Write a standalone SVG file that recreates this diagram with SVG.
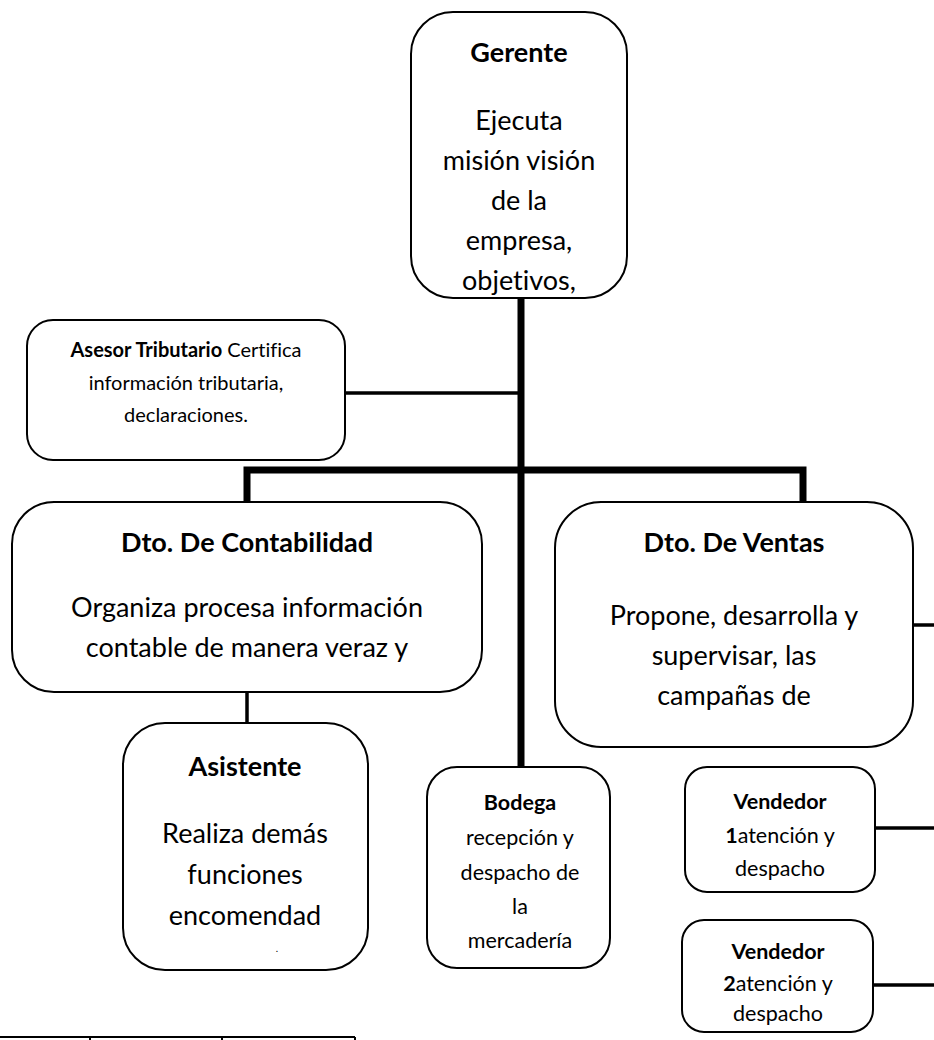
<svg xmlns="http://www.w3.org/2000/svg" width="934" height="1040" viewBox="0 0 934 1040">
  <style>
    .box { fill: #fff; stroke: #000; stroke-width: 2; }
    .t { font-family: Lato, "Open Sans", sans-serif; fill: #000; text-anchor: middle; font-variant-ligatures: none; font-feature-settings: "liga" 0, "clig" 0; }
    .big { font-size: 27px; }
    .mid { font-size: 21.5px; }
    .sml { font-size: 20px; }
    .b { font-weight: bold; }
    .heavy { stroke: #000; stroke-width: 7; fill: none; }
    .thin { stroke: #000; stroke-width: 3.5; fill: none; }
    .grid { stroke: #000; stroke-width: 2; fill: none; }
  </style>

  <!-- connectors -->
  <g id="connectors">
    <line class="heavy" x1="521" y1="298" x2="521" y2="768"/>
    <line class="thin" x1="345" y1="393" x2="521" y2="393"/>
    <path class="heavy" d="M247 503 V470 H803 V503"/>
    <line class="thin" x1="247" y1="692" x2="247" y2="724"/>
    <line class="thin" x1="913" y1="625" x2="934" y2="625"/>
    <line class="thin" x1="875" y1="828" x2="934" y2="828"/>
    <line class="thin" x1="873" y1="985" x2="934" y2="985"/>
  </g>

  <g id="gerente">
    <rect class="box" x="411" y="12" width="216" height="286" rx="42"/>
    <text class="t big b" x="519" y="62">Gerente</text>
    <text class="t big" x="519" y="130">Ejecuta</text>
    <text class="t big" x="519" y="170">misión visión</text>
    <text class="t big" x="519" y="210">de la</text>
    <text class="t big" x="519" y="250">empresa,</text>
    <text class="t big" x="519" y="290">objetivos,</text>
  </g>

  <g id="asesor">
    <rect class="box" x="27" y="320" width="318" height="140" rx="26"/>
    <text class="t sml" x="186" y="357"><tspan class="b">Asesor Tributario</tspan> Certifica</text>
    <text class="t sml" x="186" y="390">información tributaria,</text>
    <text class="t sml" x="186" y="422">declaraciones.</text>
  </g>

  <g id="contabilidad">
    <rect class="box" x="12" y="502" width="470" height="190" rx="42"/>
    <text class="t big b" x="247" y="552">Dto. De Contabilidad</text>
    <text class="t big" x="247" y="617">Organiza procesa información</text>
    <text class="t big" x="247" y="657">contable de manera veraz y</text>
  </g>

  <g id="ventas">
    <rect class="box" x="555" y="502" width="358" height="245" rx="46"/>
    <text class="t big b" x="734" y="552">Dto. De Ventas</text>
    <text class="t big" x="734" y="625">Propone, desarrolla y</text>
    <text class="t big" x="734" y="665">supervisar, las</text>
    <text class="t big" x="734" y="705">campañas de</text>
  </g>

  <g id="asistente">
    <rect class="box" x="123" y="723" width="245" height="247" rx="42"/>
    <text class="t big b" x="245" y="776">Asistente</text>
    <text class="t big" x="245" y="843">Realiza demás</text>
    <text class="t big" x="245" y="884">funciones</text>
    <text class="t big" x="245" y="925">encomendad</text>
    <text class="t" style="font-size:10px" x="277" y="952">.</text>
  </g>

  <g id="bodega">
    <rect class="box" x="427" y="767" width="183" height="201" rx="30"/>
    <text class="t mid b" x="520" y="810">Bodega</text>
    <text class="t mid" x="520" y="845">recepción y</text>
    <text class="t mid" x="520" y="880">despacho de</text>
    <text class="t mid" x="520" y="914">la</text>
    <text class="t mid" x="520" y="948">mercadería</text>
  </g>

  <g id="vendedor1">
    <rect class="box" x="685" y="767" width="190" height="125" rx="22"/>
    <text class="t mid b" x="780" y="809">Vendedor</text>
    <text class="t mid" x="780" y="843"><tspan class="b">1</tspan>atención y</text>
    <text class="t mid" x="780" y="876">despacho</text>
  </g>

  <g id="vendedor2">
    <rect class="box" x="682" y="920" width="191" height="112" rx="22"/>
    <text class="t mid b" x="778" y="959">Vendedor</text>
    <text class="t mid" x="778" y="991"><tspan class="b">2</tspan>atención y</text>
    <text class="t mid" x="778" y="1021">despacho</text>
  </g>

  <!-- table edge at the page foot -->
  <g id="table">
    <line class="grid" x1="0" y1="1037" x2="355" y2="1037"/>
    <line class="grid" x1="90" y1="1037" x2="90" y2="1041"/>
    <line class="grid" x1="222" y1="1037" x2="222" y2="1041"/>
    <line class="grid" x1="355" y1="1037" x2="355" y2="1041"/>
  </g>
</svg>
